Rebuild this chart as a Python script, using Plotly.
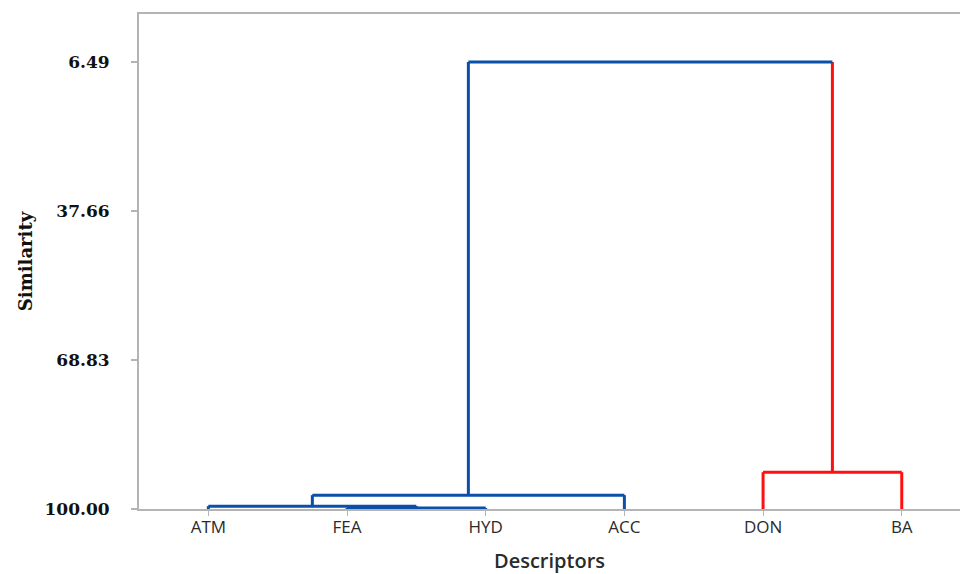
import plotly.graph_objects as go

# ---- data ----
leaves = ["ATM", "FEA", "HYD", "ACC", "DON", "BA"]
# merges: (left cluster, right cluster, similarity at which they join)
merge_left = ["FEA", "ATM", "C2", "DON", "C3"]
merge_right = ["HYD", "C1", "ACC", "BA", "C4"]
merge_height = [99.8, 99.4, 97.1, 92.3, 6.49]
merge_name = ["C1", "C2", "C3", "C4", "ROOT"]
ytick_vals = [6.49, 37.66, 68.83, 100.00]
ytick_text = ["6.49", "37.66", "68.83", "100.00"]

BLUE = "#0a4fa8"
RED = "#ff1010"
AXIS = "#b4b4b4"
cluster_color = {"C1": BLUE, "C2": BLUE, "C3": BLUE, "C4": RED}
leaf_color = {"ATM": BLUE, "FEA": BLUE, "HYD": BLUE, "ACC": BLUE, "DON": RED, "BA": RED}

# positions & heights of nodes
pos = {name: i for i, name in enumerate(leaves)}
height = {name: 100.0 for name in leaves}
node_color = dict(leaf_color)

fig = go.Figure()

def seg(xs, ys, color):
    fig.add_trace(go.Scatter(x=xs, y=ys, mode="lines",
                             line=dict(color=color, width=3),
                             hoverinfo="skip", showlegend=False))

for l, r, h, n in zip(merge_left, merge_right, merge_height, merge_name):
    xl, xr = pos[l], pos[r]
    cl = node_color[l]
    cr = node_color[r]
    seg([xl, xl], [height[l], h], cl)   # left leg
    seg([xr, xr], [height[r], h], cr)   # right leg
    seg([xl, xr], [h, h], cl)           # horizontal
    pos[n] = (xl + xr) / 2
    height[n] = h
    node_color[n] = cluster_color.get(n, BLUE)

fig.update_layout(
    width=960, height=574,
    margin=dict(l=139, r=0, t=14, b=65),
    paper_bgcolor="white", plot_bgcolor="white",
    xaxis=dict(
        range=[-0.5, 5.42],
        tickmode="array", tickvals=list(range(len(leaves))), ticktext=leaves,
        showline=True, linecolor=AXIS, linewidth=2, mirror=True,
        ticks="outside", ticklen=5, tickcolor=AXIS, tickwidth=1,
        ticklabelstandoff=-3,
        showgrid=False, zeroline=False,
        tickfont=dict(family="Open Sans", size=17, color="#2b2b2b"),
        title=dict(text="Descriptors", standoff=18,
                   font=dict(family="Open Sans", size=20, color="#2b2b2b", weight=600)),
    ),
    yaxis=dict(
        range=[100, -3.55],
        tickmode="array", tickvals=ytick_vals, ticktext=ytick_text,
        showline=True, linecolor=AXIS, linewidth=2, mirror=False,
        ticks="outside", ticklen=6, tickcolor=AXIS, tickwidth=2,
        ticklabelstandoff=18,
        showgrid=False, zeroline=False,
        tickfont=dict(family="DejaVu Serif", size=17, color="#111111", weight="bold"),
        title=dict(text="Similarity", standoff=7,
                   font=dict(family="DejaVu Serif", size=18, color="#111111", weight="bold")),
    ),
)

fig.write_html("out.html",
               config={"displayModeBar": False, "staticPlot": True},
               post_script="document.body.style.margin='0';document.body.style.overflow='hidden';")
